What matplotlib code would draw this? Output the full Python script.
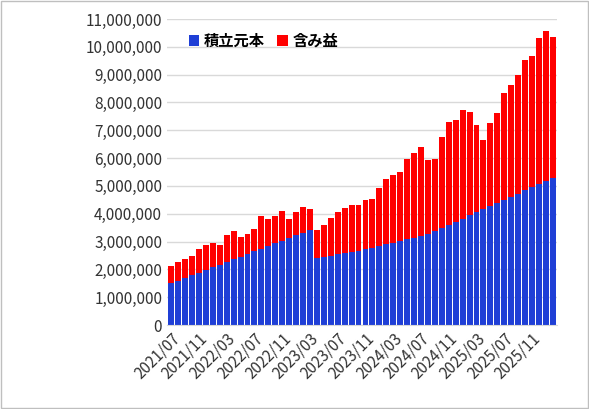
import numpy as np
import matplotlib.pyplot as plt
import matplotlib.ticker as mticker

plt.rcParams['font.family'] = ['Noto Sans CJK JP', 'DejaVu Sans']

# 月次データ (2021/07 - 2026/02), 単位: 百万円
months = [f"{2021 + (6 + i) // 12}/{(6 + i) % 12 + 1:02d}" for i in range(56)]
total = [2.12, 2.27, 2.37, 2.48, 2.73, 2.88, 2.95, 2.88, 3.24, 3.38, 3.17, 3.27, 3.45, 3.92,
         3.81, 3.92, 4.10, 3.81, 4.06, 4.24, 4.17, 3.42, 3.60, 3.85, 4.06, 4.21, 4.32, 4.32,
         4.50, 4.53, 4.93, 5.25, 5.39, 5.50, 5.97, 6.19, 6.40, 5.94, 5.97, 6.76, 7.30, 7.37,
         7.73, 7.66, 7.19, 6.65, 7.27, 7.63, 8.35, 8.63, 8.99, 9.53, 9.68, 10.32, 10.58, 10.36]
principal = [1.51, 1.58, 1.70, 1.80, 1.87, 1.99, 2.09, 2.16, 2.28, 2.37, 2.45, 2.56, 2.66, 2.73,
             2.85, 2.95, 3.02, 3.14, 3.24, 3.31, 3.43, 2.42, 2.45, 2.49, 2.56, 2.59, 2.64, 2.66,
             2.73, 2.78, 2.85, 2.92, 2.95, 3.02, 3.09, 3.14, 3.21, 3.28, 3.38, 3.50, 3.60, 3.72,
             3.81, 3.96, 4.08, 4.17, 4.29, 4.39, 4.51, 4.60, 4.72, 4.87, 4.96, 5.08, 5.18, 5.30]

principal = np.array(principal) * 1e6
gain = np.array(total) * 1e6 - principal

fig = plt.figure(figsize=(5.89, 4.09), dpi=100)
ax = fig.add_axes([167 / 589, 1 - 325 / 409, 390 / 589, 306 / 409])
x = np.arange(len(months))
ax.bar(x, principal, width=0.85, color='#1f3fd6', label='積立元本', zorder=2)
ax.bar(x, gain, width=0.85, bottom=principal, color='#ff0000', label='含み益', zorder=2)

ax.set_ylim(0, 11e6)
ax.set_xlim(-0.6, len(months) - 0.4)
ax.yaxis.set_major_locator(mticker.MultipleLocator(1e6))
ax.yaxis.set_major_formatter(mticker.FuncFormatter(lambda v, p: f"{int(v):,}"))
ax.grid(axis='y', color='#d9d9d9', linewidth=1, zorder=0)
ax.set_xticks(x[::4])
ax.set_xticklabels(months[::4], rotation=45, ha='right', rotation_mode='anchor')
ax.tick_params(length=0, labelsize=11, colors='#333333')
for s in ['top', 'right', 'left']:
    ax.spines[s].set_visible(False)
ax.spines['bottom'].set_color('#d9d9d9')

ax.legend(loc='upper left', bbox_to_anchor=(0.02, 1.0), ncol=2, frameon=False,
          handlelength=0.7, handleheight=0.7, columnspacing=0.8, handletextpad=0.3,
          prop={'weight': 'bold', 'size': 11})

fig.patches.append(plt.Rectangle((0.002, 0.002), 0.996, 0.996, transform=fig.transFigure,
                                 fill=False, edgecolor='#bfbfbf', linewidth=1))
fig.savefig('out.png', dpi=100)
